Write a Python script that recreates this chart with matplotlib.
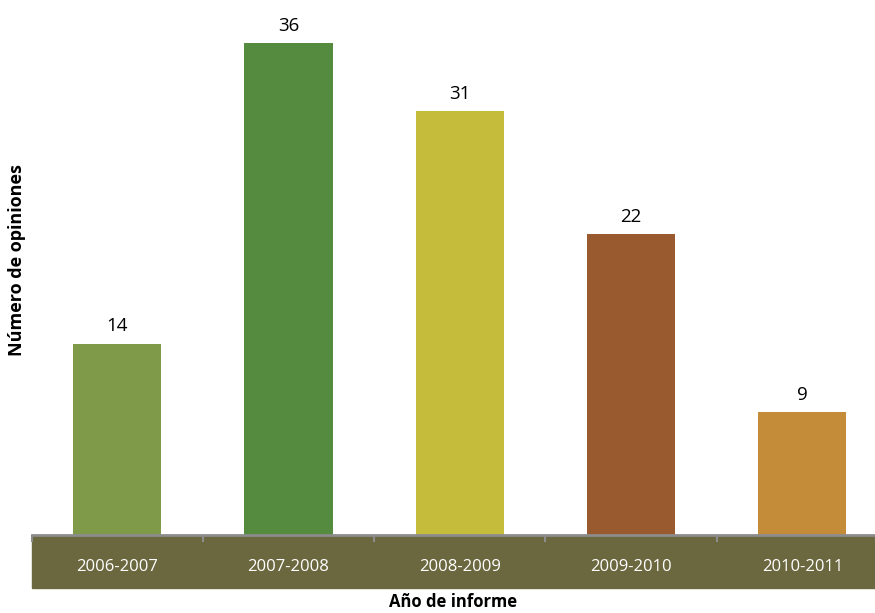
import matplotlib
matplotlib.use("Agg")
import matplotlib.pyplot as plt
from matplotlib.patches import Rectangle
import numpy as np

years = ["2006-2007", "2007-2008", "2008-2009", "2009-2010", "2010-2011"]
opinions = [14, 36, 31, 22, 9]
bar_colors = ["#7f9a48", "#548b3f", "#c5bc3c", "#9a5a30", "#c48c38"]

plt.rcParams['font.family'] = ['Open Sans', 'DejaVu Sans']

W, H = 875, 613
fig = plt.figure(figsize=(W / 100, H / 100), dpi=100)

# plot area in pixels (axes spills past the right edge like the original)
left_px, base_px, cat_px = 31.5, 535, 171.3
unit_px = 13.67
ax = fig.add_axes([left_px / W, (H - base_px) / H, 5 * cat_px / W, base_px / H])
ax.set_xlim(-0.5, 4.5)
ax.set_ylim(0, base_px / unit_px)

x = np.arange(len(years))
bars = ax.bar(x, opinions, width=0.515, color=bar_colors, zorder=2)
for b, v in zip(bars, opinions):
    ax.text(b.get_x() + b.get_width() / 2, v + 0.6, str(v),
            ha="center", va="bottom", fontsize=13.5, color="black")

for s in ["top", "right", "left"]:
    ax.spines[s].set_visible(False)
ax.spines["bottom"].set_color("#8c8c8c")
ax.spines["bottom"].set_linewidth(2)
ax.spines["bottom"].set_zorder(3)
ax.set_yticks([])

ax.set_xticks(x)
ax.set_xticklabels(years)
ax.tick_params(axis="x", which="major", length=0, pad=17, labelsize=12,
               labelcolor="white")
ax.set_xticks(np.arange(-0.5, 4.6, 1), minor=True)
ax.tick_params(axis="x", which="minor", length=5, width=1.5, color="#8c8c8c",
               direction="out")

# olive band behind the category labels
fig.add_artist(Rectangle((32 / W, 25 / H), 1, 52 / H, transform=fig.transFigure,
                         color="#6b673f", zorder=0))

fig.text(453 / W, 1 - 602 / H, "Año de informe", ha="center", va="center",
         fontsize=12, fontweight="bold")
fig.text(17 / W, 1 - 260 / H, "Número de opiniones", ha="center", va="center",
         rotation=90, fontsize=13, fontweight="bold")

fig.savefig("out.png", dpi=100)
